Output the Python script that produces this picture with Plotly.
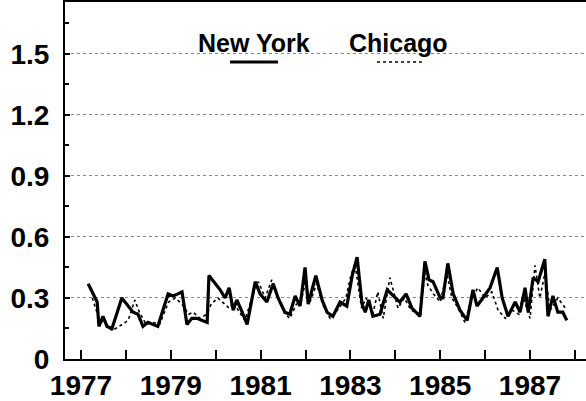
import plotly.graph_objects as go

# ---- data (decimal years, values) ----
ny_t = [1977.16, 1977.36, 1977.40, 1977.49, 1977.58, 1977.69, 1977.91, 1978.16, 1978.27, 1978.38,
        1978.49, 1978.60, 1978.71, 1978.94, 1979.05, 1979.16, 1979.25, 1979.36, 1979.47, 1979.58,
        1979.81, 1979.85, 1980.10, 1980.21, 1980.30, 1980.39, 1980.47, 1980.59, 1980.70, 1980.88,
        1980.99, 1981.14, 1981.28, 1981.39, 1981.54, 1981.65, 1981.77, 1981.88, 1981.99, 1982.06,
        1982.23, 1982.37, 1982.48, 1982.61, 1982.77, 1982.92, 1983.04, 1983.15, 1983.26, 1983.33,
        1983.41, 1983.50, 1983.66, 1983.82, 1983.95, 1984.10, 1984.24, 1984.37, 1984.55, 1984.66,
        1984.75, 1984.84, 1985.00, 1985.06, 1985.17, 1985.29, 1985.44, 1985.60, 1985.73, 1985.82,
        1985.95, 1986.11, 1986.27, 1986.38, 1986.51, 1986.67, 1986.78, 1986.89, 1986.96, 1987.07,
        1987.18, 1987.33, 1987.40, 1987.51, 1987.62, 1987.73, 1987.82]
ny_v = [0.37, 0.28, 0.16, 0.21, 0.16, 0.15, 0.30, 0.23, 0.22, 0.16,
        0.18, 0.17, 0.16, 0.32, 0.31, 0.32, 0.33, 0.17, 0.20, 0.20,
        0.18, 0.41, 0.34, 0.30, 0.35, 0.24, 0.29, 0.23, 0.17, 0.38,
        0.32, 0.28, 0.37, 0.30, 0.23, 0.22, 0.31, 0.26, 0.45, 0.27,
        0.41, 0.29, 0.23, 0.21, 0.28, 0.26, 0.41, 0.50, 0.27, 0.23,
        0.29, 0.21, 0.22, 0.34, 0.31, 0.28, 0.32, 0.25, 0.21, 0.48,
        0.39, 0.38, 0.30, 0.30, 0.47, 0.32, 0.24, 0.19, 0.34, 0.26,
        0.30, 0.35, 0.45, 0.30, 0.21, 0.28, 0.23, 0.35, 0.23, 0.40,
        0.38, 0.49, 0.21, 0.31, 0.23, 0.23, 0.19]

chi_t = [1977.25, 1977.40, 1977.55, 1977.69, 1977.85, 1978.05, 1978.20, 1978.30, 1978.45, 1978.60,
         1978.75, 1978.95, 1979.10, 1979.25, 1979.40, 1979.50, 1979.65, 1979.80, 1979.90, 1980.05,
         1980.20, 1980.30, 1980.40, 1980.50, 1980.65, 1980.85, 1980.95, 1981.10, 1981.25, 1981.40,
         1981.55, 1981.65, 1981.80, 1981.90, 1982.00, 1982.10, 1982.25, 1982.40, 1982.55, 1982.75,
         1982.90, 1983.00, 1983.10, 1983.25, 1983.35, 1983.50, 1983.61, 1983.73, 1983.88, 1984.06,
         1984.20, 1984.35, 1984.55, 1984.66, 1984.73, 1984.85, 1985.00, 1985.15, 1985.26, 1985.40,
         1985.55, 1985.70, 1985.84, 1986.00, 1986.15, 1986.22, 1986.29, 1986.45, 1986.60, 1986.75,
         1986.84, 1987.00, 1987.11, 1987.22, 1987.33, 1987.45, 1987.62, 1987.82]
chi_v = [0.30, 0.20, 0.17, 0.14, 0.16, 0.19, 0.29, 0.23, 0.17, 0.18,
         0.17, 0.28, 0.30, 0.27, 0.22, 0.23, 0.20, 0.22, 0.27, 0.30,
         0.27, 0.25, 0.28, 0.24, 0.19, 0.33, 0.38, 0.30, 0.39, 0.29,
         0.22, 0.20, 0.27, 0.28, 0.38, 0.28, 0.37, 0.26, 0.20, 0.25,
         0.30, 0.40, 0.47, 0.25, 0.30, 0.22, 0.33, 0.20, 0.40, 0.25,
         0.30, 0.24, 0.22, 0.42, 0.36, 0.32, 0.28, 0.42, 0.30, 0.25,
         0.18, 0.30, 0.35, 0.30, 0.33, 0.28, 0.24, 0.20, 0.24, 0.22,
         0.31, 0.20, 0.46, 0.30, 0.42, 0.24, 0.30, 0.24]

x_tick_vals = list(range(1977, 1989))
x_tick_text = [str(y) if y % 2 == 1 else "" for y in x_tick_vals]
y_tick_vals = [0, 0.3, 0.6, 0.9, 1.2, 1.5]
y_tick_text = ["0", "0.3", "0.6", "0.9", "1.2", "1.5"]
series_names = ["New York", "Chicago"]

FONT = "Liberation Sans, Arial, sans-serif"

fig = go.Figure()
fig.add_trace(go.Scatter(x=chi_t, y=chi_v, mode="lines", name=series_names[1],
                         line=dict(color="black", width=1.6, dash="dot"), showlegend=False))
fig.add_trace(go.Scatter(x=ny_t, y=ny_v, mode="lines", name=series_names[0],
                         line=dict(color="black", width=3.2), showlegend=False))

# legend drawn as text above sample lines
fig.add_annotation(x=0.3628, y=0.885, xref="paper", yref="paper", text="<b>%s</b>" % series_names[0],
                   xanchor="center", yanchor="middle",
                   showarrow=False, font=dict(family=FONT, size=25, color="black"))
fig.add_annotation(x=0.641, y=0.885, xref="paper", yref="paper", text="<b>%s</b>" % series_names[1],
                   xanchor="center", yanchor="middle",
                   showarrow=False, font=dict(family=FONT, size=25, color="black"))
fig.add_shape(type="line", xref="paper", yref="paper", x0=0.3167, x1=0.4088, y0=0.832, y1=0.832,
              line=dict(color="black", width=3))
fig.add_shape(type="line", xref="paper", yref="paper", x0=0.599, x1=0.685, y0=0.832, y1=0.832,
              line=dict(color="black", width=1.6, dash="dot"))

fig.update_layout(
    width=586, height=401,
    margin=dict(l=65, r=0, t=2, b=42),
    paper_bgcolor="white", plot_bgcolor="white",
    font=dict(family=FONT, size=28, color="black"),
)
fig.update_xaxes(
    range=[1976.644, 1988.247],
    tickvals=x_tick_vals, ticktext=x_tick_text,
    ticks="inside", ticklen=9, tickwidth=1.5, tickcolor="black",
    showline=True, linecolor="black", linewidth=2, mirror=True,
    showgrid=False, zeroline=False,
    tickfont=dict(family=FONT, size=28, color="black", weight="bold"),
)
fig.update_yaxes(
    range=[0, 1.755],
    tickvals=y_tick_vals, ticktext=y_tick_text,
    ticks="inside", ticklen=5, tickwidth=1.5, tickcolor="black",
    minor=dict(tickvals=[0.15, 0.45, 0.75, 1.05, 1.35, 1.65], ticks="inside", ticklen=4,
               tickwidth=1.5, tickcolor="black", showgrid=False),
    showline=True, linecolor="black", linewidth=2,
    showgrid=True, gridcolor="#888888", griddash="dot", gridwidth=1,
    zeroline=False, ticklabelstandoff=8,
    tickfont=dict(family=FONT, size=28, color="black", weight="bold"),
)

fig.write_html("out.html", config={"displayModeBar": False},
               post_script="document.body.style.margin='0';document.body.style.overflow='hidden';")
